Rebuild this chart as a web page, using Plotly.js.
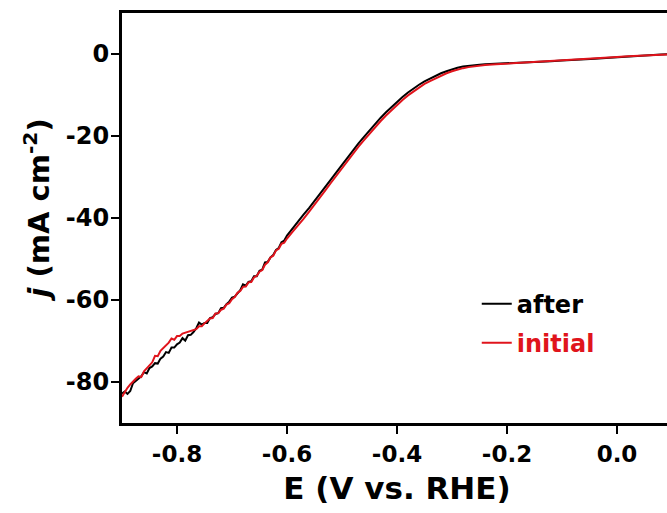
<!DOCTYPE html>
<html>
<head>
<meta charset="utf-8">
<script src="https://cdn.plot.ly/plotly-3.0.1.min.js"></script>
<style>
html,body{margin:0;padding:0;overflow:hidden;background:#fff;}
#chart{width:680px;height:513px;}
</style>
</head>
<body>
<div id="chart"></div>
<script>
// Potential (V vs. RHE) and current density (mA cm^-2)
var E_after = [-0.90,-0.895,-0.89,-0.885,-0.88,-0.875,-0.87,-0.865,-0.86,-0.855,-0.85,-0.845,-0.84,-0.835,-0.83,-0.825,-0.82,-0.815,-0.81,-0.805,-0.80,-0.795,-0.79,-0.785,-0.78,-0.775,-0.77,-0.765,-0.76,-0.755,-0.75,-0.745,-0.74,-0.735,-0.73,-0.725,-0.72,-0.715,-0.71,-0.705,-0.70,-0.695,-0.69,-0.685,-0.68,-0.675,-0.67,-0.665,-0.66,-0.655,-0.65,-0.645,-0.64,-0.635,-0.63,-0.625,-0.62,-0.615,-0.61,-0.605,-0.60,-0.59,-0.58,-0.57,-0.56,-0.55,-0.54,-0.53,-0.52,-0.51,-0.50,-0.49,-0.48,-0.47,-0.46,-0.45,-0.44,-0.43,-0.42,-0.41,-0.40,-0.39,-0.38,-0.37,-0.36,-0.35,-0.34,-0.33,-0.32,-0.31,-0.30,-0.29,-0.28,-0.27,-0.26,-0.25,-0.24,-0.22,-0.20,-0.18,-0.16,-0.14,-0.12,-0.10,-0.08,-0.06,-0.04,-0.02,0.00,0.02,0.04,0.06,0.08,0.10];
var j_after = [-82.8,-82.3,-82.9,-82.2,-80.3,-79.7,-79.0,-78.6,-77.6,-77.9,-76.6,-76.2,-75.4,-75.5,-74.3,-73.8,-72.7,-72.9,-71.6,-71.6,-70.8,-70.4,-69.3,-69.9,-68.6,-68.5,-67.8,-66.9,-65.5,-66.0,-65.6,-65.6,-64.4,-64.2,-63.4,-63.2,-62.0,-61.9,-61.0,-60.4,-59.4,-59.2,-58.4,-57.6,-56.2,-56.5,-55.6,-55.4,-54.2,-54.2,-52.9,-52.6,-50.8,-50.7,-49.6,-49.0,-47.8,-47.3,-45.9,-45.5,-44.3,-42.5,-40.8,-39.2,-37.6,-35.9,-34.2,-32.4,-30.6,-28.8,-27.0,-25.2,-23.5,-21.8,-20.2,-18.6,-17.1,-15.6,-14.2,-12.9,-11.6,-10.5,-9.4,-8.4,-7.5,-6.7,-6.0,-5.3,-4.7,-4.2,-3.75,-3.35,-3.05,-2.85,-2.7,-2.6,-2.5,-2.4,-2.3,-2.2,-2.05,-1.9,-1.75,-1.6,-1.5,-1.35,-1.15,-0.95,-0.75,-0.55,-0.4,-0.25,-0.12,-0.05];

var E_initial = [-0.90,-0.895,-0.89,-0.885,-0.88,-0.875,-0.87,-0.865,-0.86,-0.855,-0.85,-0.845,-0.84,-0.835,-0.83,-0.825,-0.82,-0.815,-0.81,-0.805,-0.80,-0.795,-0.79,-0.785,-0.78,-0.775,-0.77,-0.765,-0.76,-0.755,-0.75,-0.745,-0.74,-0.735,-0.73,-0.725,-0.72,-0.715,-0.71,-0.705,-0.70,-0.695,-0.69,-0.685,-0.68,-0.675,-0.67,-0.665,-0.66,-0.655,-0.65,-0.645,-0.64,-0.635,-0.63,-0.625,-0.62,-0.615,-0.61,-0.605,-0.60,-0.59,-0.58,-0.57,-0.56,-0.55,-0.54,-0.53,-0.52,-0.51,-0.50,-0.49,-0.48,-0.47,-0.46,-0.45,-0.44,-0.43,-0.42,-0.41,-0.40,-0.39,-0.38,-0.37,-0.36,-0.35,-0.34,-0.33,-0.32,-0.31,-0.30,-0.29,-0.28,-0.27,-0.26,-0.25,-0.24,-0.22,-0.20,-0.18,-0.16,-0.14,-0.12,-0.10,-0.08,-0.06,-0.04,-0.02,0.00,0.02,0.04,0.06,0.08,0.10];
var j_initial = [-83.6,-82.4,-81.4,-80.6,-79.8,-79.2,-78.6,-78.8,-77.4,-76.6,-75.8,-75.2,-73.6,-73.7,-72.4,-71.8,-71.2,-70.4,-69.4,-69.7,-68.8,-68.8,-68.2,-68.0,-67.8,-67.6,-67.4,-67.1,-66.4,-66.4,-65.7,-65.2,-64.5,-64.4,-63.3,-63.2,-62.4,-62.1,-61.1,-60.8,-59.8,-59.3,-58.2,-57.8,-56.8,-56.7,-55.7,-55.6,-54.5,-54.1,-53.1,-52.7,-51.4,-50.8,-49.6,-49.2,-47.9,-47.5,-46.3,-46.0,-45.0,-43.4,-41.9,-40.2,-38.5,-36.8,-35.0,-33.2,-31.4,-29.6,-27.8,-26.0,-24.3,-22.6,-21.0,-19.4,-17.9,-16.4,-15.0,-13.7,-12.4,-11.2,-10.1,-9.1,-8.2,-7.3,-6.6,-5.9,-5.3,-4.7,-4.2,-3.8,-3.45,-3.2,-3.0,-2.85,-2.7,-2.5,-2.35,-2.2,-2.05,-1.9,-1.75,-1.6,-1.5,-1.35,-1.15,-0.95,-0.75,-0.55,-0.4,-0.25,-0.12,-0.05];

var xTicks = [-0.8,-0.6,-0.4,-0.2,0.0];
var xTickText = ['-0.8','-0.6','-0.4','-0.2','0.0'];
var yTicks = [0,-20,-40,-60,-80];
var yTickText = ['0','-20','-40','-60','-80'];

var seriesNames = ['after','<span style="color:#e0141c">initial</span>'];
var seriesColors = ['#000000','#e0141c'];

var FONT = '"DejaVu Sans", Arial, sans-serif';

var traces = [
  {x:E_after, y:j_after, type:'scatter', mode:'lines', name:seriesNames[0], legendgroup:'a',
   line:{color:seriesColors[0], width:2}},
  {x:E_initial, y:j_initial, type:'scatter', mode:'lines', name:seriesNames[1], legendgroup:'b',
   line:{color:seriesColors[1], width:2}}
];

var layout = {
  width:680, height:513,
  margin:{l:122, r:8, t:13, b:90},
  paper_bgcolor:'#fff', plot_bgcolor:'#fff',
  font:{family:FONT, color:'#000', weight:'bold'},
  showlegend:true,
  legend:{x:0.645, y:0.345, xanchor:'left', yanchor:'top', bgcolor:'rgba(0,0,0,0)',
          font:{family:FONT, size:24, color:'#000', weight:'bold'}, tracegroupgap:5, itemwidth:30},
  xaxis:{range:[-0.9,0.1], tickvals:xTicks, ticktext:xTickText, ticks:'outside', ticklen:8, tickwidth:2.5,
         tickcolor:'#000', showline:true, linewidth:3, linecolor:'#000', mirror:true, showgrid:false, zeroline:false,
         tickfont:{family:FONT, size:23, color:'#000', weight:'bold'},
         title:{text:'E (V vs. RHE)', standoff:12, font:{family:FONT, size:31, color:'#000', weight:'bold'}}},
  yaxis:{range:[-90,10], tickvals:yTicks, ticktext:yTickText, ticks:'outside', ticklen:8, tickwidth:2.5,
         tickcolor:'#000', showline:true, linewidth:3, linecolor:'#000', mirror:true, showgrid:false, zeroline:false,
         ticklabelstandoff:-3,
         tickfont:{family:FONT, size:24, color:'#000', weight:'bold'},
         title:{text:'&nbsp;&nbsp;<i>j</i> (mA cm<sup>-2</sup>)', standoff:8, font:{family:FONT, size:29, color:'#000', weight:'bold'}}}
};

Plotly.newPlot('chart', traces, layout, {displayModeBar:false, staticPlot:true});
</script>
</body>
</html>
